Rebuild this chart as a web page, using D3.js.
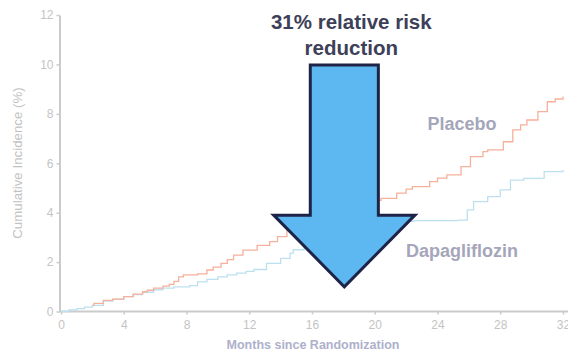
<!DOCTYPE html>
<html>
<head>
<meta charset="utf-8">
<script src="https://cdn.jsdelivr.net/npm/d3@7"></script>
<style>
  html, body { margin: 0; padding: 0; background: #fff; }
  svg { display: block; font-family: "Liberation Sans", Arial, sans-serif; }
</style>
</head>
<body>
<svg id="chart" width="568" height="352"></svg>
<script>
// Kaplan–Meier style cumulative incidence (%), months since randomization
const placeboMonths = [2.0, 2.1, 2.7, 3.3, 4.0, 4.6, 5.2, 5.5, 5.9, 6.5, 6.9, 7.2, 7.5, 7.8, 8.7, 9.3, 9.7, 10.2, 10.6, 11.0, 11.6, 12.5, 13.3, 13.8, 14.4, 15.0, 16.0, 17.0, 18.0, 19.0, 20.0, 20.4, 21.4, 22.0, 22.4, 23.5, 24.0, 24.6, 25.5, 26.1, 26.9, 27.2, 28.2, 28.8, 29.3, 29.7, 30.4, 31.0, 31.5, 32.0];
const placeboValues = [0.25, 0.33, 0.45, 0.50, 0.60, 0.70, 0.80, 0.86, 0.95, 1.03, 1.10, 1.22, 1.40, 1.48, 1.52, 1.68, 1.80, 1.95, 2.10, 2.28, 2.48, 2.68, 2.83, 3.03, 3.30, 3.50, 3.75, 3.95, 4.10, 4.30, 4.50, 4.58, 4.79, 4.95, 5.05, 5.26, 5.40, 5.53, 5.86, 6.27, 6.47, 6.54, 6.87, 7.35, 7.55, 7.75, 8.09, 8.49, 8.60, 8.70];

const dapaMonths = [0, 0.5, 1.0, 1.5, 2.0, 2.7, 3.3, 4.0, 4.6, 5.2, 5.9, 6.5, 7.2, 8.2, 8.7, 9.3, 10.0, 10.6, 11.2, 11.8, 12.3, 13.1, 14.0, 14.6, 14.8, 15.5, 16.5, 17.5, 18.5, 19.5, 20.5, 21.5, 22.5, 25.3, 25.9, 26.3, 27.2, 28.0, 28.65, 29.5, 30.8, 32.0];
const dapaValues = [0, 0.06, 0.12, 0.18, 0.25, 0.42, 0.50, 0.60, 0.68, 0.78, 0.88, 0.95, 1.00, 1.05, 1.20, 1.30, 1.40, 1.48, 1.55, 1.62, 1.70, 1.95, 2.15, 2.36, 2.50, 2.70, 2.95, 3.15, 3.35, 3.50, 3.60, 3.65, 3.68, 3.70, 4.11, 4.45, 4.65, 4.92, 5.32, 5.39, 5.66, 5.73];

const xTicks = [0, 4, 8, 12, 16, 20, 24, 28, 32];
const yTicks = [0, 2, 4, 6, 8, 10, 12];

const titleLines = ["31% relative risk", "reduction"];
const seriesNames = ["Placebo", "Dapagliflozin"];

// Downward arrow, in data units: shaft from 10% down to the head at 3.9%, tip at 1%
const arrowCenter = 18.06, arrowTop = 9.98, arrowNeck = 3.9, arrowTip = 1.0;
const shaftHalf = 2.17, headHalf = 4.5;

const svg = d3.select("#chart");
const x = d3.scaleLinear().domain([0, 32]).range([61, 563]);
const y = d3.scaleLinear().domain([0, 12]).range([311.5, 15]);

const axisColor = "#cbcbcb";
const tickText = "#c4c4c4";

// Y axis
const yAxis = svg.append("g")
  .attr("transform", `translate(${x(0) - 1.5},0)`)
  .call(d3.axisLeft(y).tickValues(yTicks).tickSize(3).tickPadding(3).tickSizeOuter(0));
yAxis.select(".domain").attr("stroke", axisColor).attr("stroke-width", 2);
yAxis.selectAll(".tick line").attr("stroke", axisColor).attr("stroke-width", 1.5);
yAxis.selectAll(".tick text").attr("fill", tickText).attr("font-size", 12)
  .attr("font-family", "Liberation Sans, Arial, sans-serif");

// X axis
const xAxis = svg.append("g")
  .attr("transform", `translate(0,${y(0)})`)
  .call(d3.axisBottom(x).tickValues(xTicks).tickSize(3).tickPadding(6).tickSizeOuter(0));
xAxis.select(".domain").remove();
xAxis.append("line")
  .attr("x1", x(0) - 2).attr("x2", 568).attr("y1", 0).attr("y2", 0)
  .attr("stroke", axisColor).attr("stroke-width", 2);
xAxis.selectAll(".tick line").attr("stroke", axisColor).attr("stroke-width", 1.5);
xAxis.selectAll(".tick text").attr("fill", tickText).attr("font-size", 12)
  .attr("font-family", "Liberation Sans, Arial, sans-serif");

// Axis titles
svg.append("text")
  .attr("transform", `translate(22,163) rotate(-90)`)
  .attr("text-anchor", "middle")
  .attr("fill", "#c2c2c2")
  .attr("font-size", 13.3)
  .text("Cumulative Incidence (%)");

svg.append("text")
  .attr("x", 313).attr("y", 349)
  .attr("text-anchor", "middle")
  .attr("fill", "#aeb0cb")
  .attr("font-size", 12.5)
  .attr("font-weight", "bold")
  .text("Months since Randomization");

// Curves
const line = d3.line()
  .x(d => x(d[0]))
  .y(d => y(d[1]))
  .curve(d3.curveStepAfter);

const placebo = placeboMonths.map((m, i) => [m, placeboValues[i]]);
const dapa = dapaMonths.map((m, i) => [m, dapaValues[i]]);

svg.append("path").datum(dapa)
  .attr("d", line).attr("fill", "none")
  .attr("stroke", "#bde0f0").attr("stroke-width", 1.3);
svg.append("path").datum(placebo)
  .attr("d", line).attr("fill", "none")
  .attr("stroke", "#f6b09b").attr("stroke-width", 1.3);

// Arrow
const arrowPts = [
  [arrowCenter - shaftHalf, arrowTop],
  [arrowCenter + shaftHalf, arrowTop],
  [arrowCenter + shaftHalf, arrowNeck],
  [arrowCenter + headHalf, arrowNeck],
  [arrowCenter, arrowTip],
  [arrowCenter - headHalf, arrowNeck],
  [arrowCenter - shaftHalf, arrowNeck]
];
svg.append("path")
  .attr("d", d3.line().x(d => x(d[0])).y(d => y(d[1])).curve(d3.curveLinearClosed)(arrowPts))
  .attr("fill", "#5db7f0")
  .attr("stroke", "#1d2447")
  .attr("stroke-width", 3)
  .attr("stroke-linejoin", "miter");

// Title
svg.append("text")
  .attr("text-anchor", "middle")
  .attr("fill", "#3e3f58")
  .attr("font-size", 20.5)
  .attr("font-weight", "bold")
  .selectAll("tspan").data(titleLines).join("tspan")
  .attr("x", x(arrowCenter) + 7)
  .attr("y", (d, i) => 29 + i * 26)
  .text(d => d);

// Series labels
svg.append("text")
  .attr("x", 462).attr("y", 129.5)
  .attr("text-anchor", "middle")
  .attr("fill", "#a5a6ba")
  .attr("font-size", 18)
  .attr("font-weight", "bold")
  .text(seriesNames[0]);

svg.append("text")
  .attr("x", 462).attr("y", 257)
  .attr("text-anchor", "middle")
  .attr("fill", "#a5a6ba")
  .attr("font-size", 18)
  .attr("font-weight", "bold")
  .text(seriesNames[1]);
</script>
</body>
</html>
